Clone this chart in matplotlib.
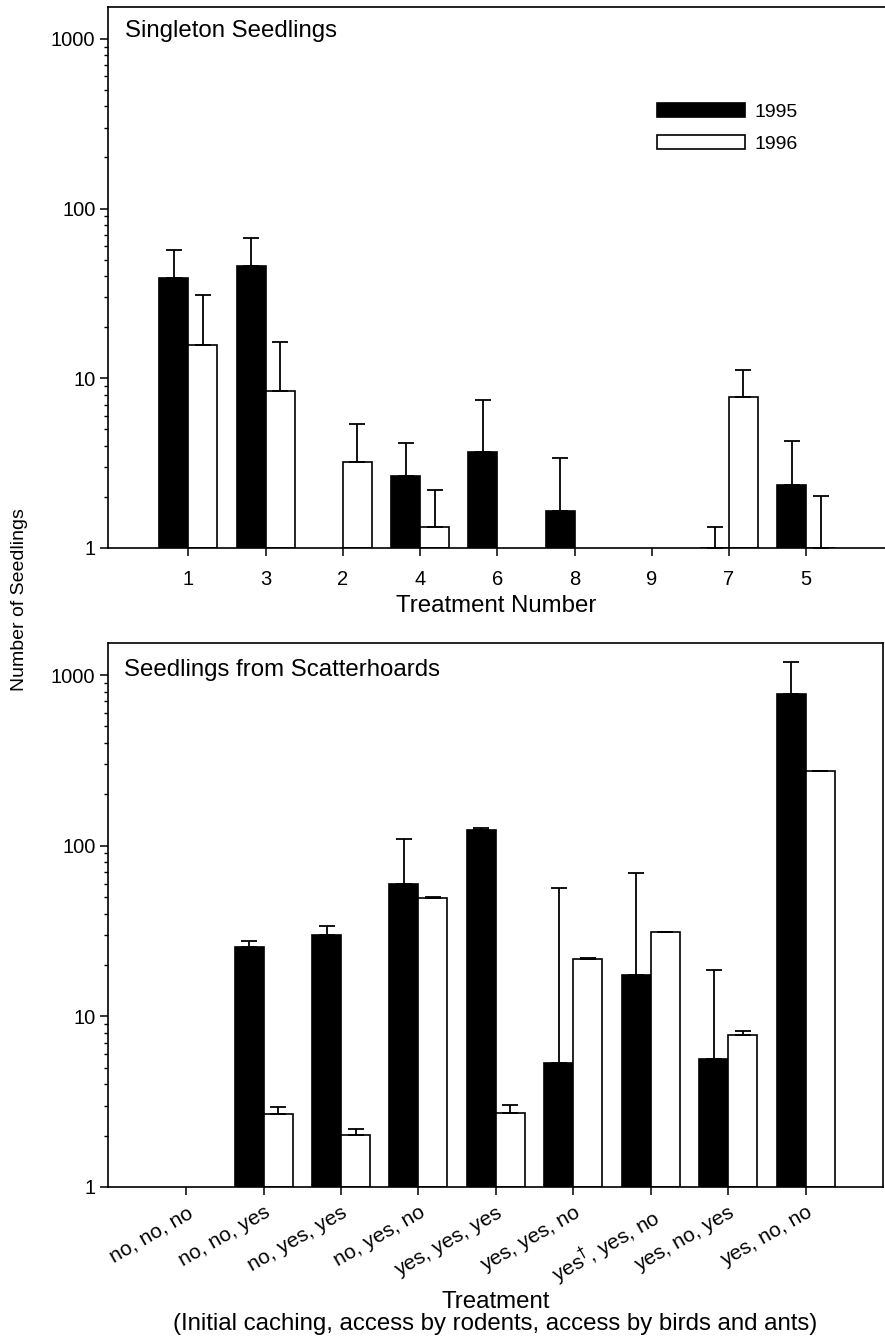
import numpy as np
import matplotlib
matplotlib.use("Agg")
import matplotlib.pyplot as plt
from matplotlib.ticker import LogLocator, FixedLocator, NullFormatter

plt.rcParams['font.family'] = ['Liberation Sans', 'DejaVu Sans']

# ---------------- data ----------------
top_labels = ["1", "3", "2", "4", "6", "8", "9", "7", "5"]
top_1995 = [39, 46, np.nan, 2.67, 3.7, 1.66, np.nan, 1.0, 2.36]
top_1995_err = [18, 21, np.nan, 1.46, 3.7, 1.71, np.nan, 0.33, 1.89]
top_1996 = [15.7, 8.4, 3.2, 1.33, np.nan, np.nan, np.nan, 7.8, 1.0]
top_1996_err = [15.3, 7.9, 2.2, 0.87, np.nan, np.nan, np.nan, 3.4, 1.02]

bot_labels = ["no, no, no", "no, no, yes", "no, yes, yes", "no, yes, no",
              "yes, yes, yes", "yes, yes, no", r"yes$^{\dagger}$, yes, no",
              "yes, no, yes", "yes, no, no"]
bot_1995 = [np.nan, 25.4, 29.9, 60, 123, 5.3, 17.5, 5.6, 770]
bot_1995_err = [np.nan, 2.4, 4.1, 49, 4, 51, 52, 13.1, 427]
bot_1996 = [np.nan, 2.66, 2.02, 49.4, 2.73, 21.7, 31, 7.8, 275]
bot_1996_err = [np.nan, 0.30, 0.17, 0.3, 0.30, 0.3, 0.3, 0.4, 0.0]

years = ["1995", "1996"]

# ---------------- figure ----------------
fig = plt.figure(figsize=(8.85, 13.38), dpi=100)
ax1 = fig.add_axes([108/885, 1-548/1338, (885-108)/885, (548-7)/1338])
ax2 = fig.add_axes([108/885, 1-1187/1338, (883-108)/885, (1187-643)/1338])

w = 0.375
lw = 1.2


def draw(ax, v95, e95, v96, e96):
    x = np.arange(len(v95))
    v95 = np.array(v95, float); v96 = np.array(v96, float)
    e95 = np.array(e95, float); e96 = np.array(e96, float)
    b1 = ax.bar(x - w/2, v95 - 1, bottom=1, width=w, color='black',
                edgecolor='black', linewidth=lw, label=years[0])
    b2 = ax.bar(x + w/2, v96 - 1, bottom=1, width=w, color='white',
                edgecolor='black', linewidth=lw, label=years[1])
    for xs, v, e in ((x - w/2, v95, e95), (x + w/2, v96, e96)):
        m = ~np.isnan(v)
        ax.errorbar(xs[m], v[m], yerr=[np.zeros(m.sum()), e[m]], fmt='none',
                    ecolor='black', elinewidth=1.3, capsize=5.5, capthick=1.3)
    return b1, b2


b1, b2 = draw(ax1, top_1995, top_1995_err, top_1996, top_1996_err)
draw(ax2, bot_1995, bot_1995_err, bot_1996, bot_1996_err)

for ax in (ax1, ax2):
    ax.set_yscale('log')
    ax.set_ylim(1, 1540)
    ax.yaxis.set_major_locator(FixedLocator([1, 10, 100, 1000]))
    ax.set_yticklabels(["1", "10", "100", "1000"])
    ax.yaxis.set_minor_locator(LogLocator(base=10, subs=np.arange(2, 10)))
    ax.yaxis.set_minor_formatter(NullFormatter())
    ax.tick_params(axis='both', which='major', direction='out', length=5.5,
                   width=1.1, labelsize=14.5)
    ax.tick_params(axis='y', which='minor', direction='out', length=3, width=1.0)
    for s in ax.spines.values():
        s.set_linewidth(1.2)

ax1.set_xlim(-1.04, 9.02)
ax2.set_xlim(-1.01, 9.0)
ax1.spines['right'].set_visible(False)

ax1.set_xticks(np.arange(len(top_labels)))
ax1.set_xticklabels(top_labels)
ax1.tick_params(axis='x', pad=10)
ax1.set_xlabel("Treatment Number", fontsize=17.3, labelpad=5)

ax2.set_xticks(np.arange(len(bot_labels)))
ax2.set_xticklabels(bot_labels, rotation=30, ha='right', rotation_mode='anchor',
                    fontsize=15)
ax2.tick_params(axis='x', pad=6)
ax2.set_xlabel("Treatment\n(Initial caching, access by rodents, access by birds and ants)",
               fontsize=17.3, labelpad=2, linespacing=1.0)

ax1.text(0.022, 0.955, "Singleton Seedlings", transform=ax1.transAxes,
         fontsize=17.3, va='center', ha='left')
ax2.text(0.021, 0.951, "Seedlings from Scatterhoards", transform=ax2.transAxes,
         fontsize=17.3, va='center', ha='left')

ax1.legend([b1, b2], years, loc='upper left', bbox_to_anchor=(0.7066, 0.823),
           frameon=False, fontsize=14, handlelength=4.53, handleheight=0.75,
           handletextpad=0.5, labelspacing=0.75, borderaxespad=0, borderpad=0)

fig.text(20/885, 1-600/1338, "Number of Seedlings", rotation=90, fontsize=14,
         ha='center', va='center')

fig.savefig("out.png", dpi=100)
